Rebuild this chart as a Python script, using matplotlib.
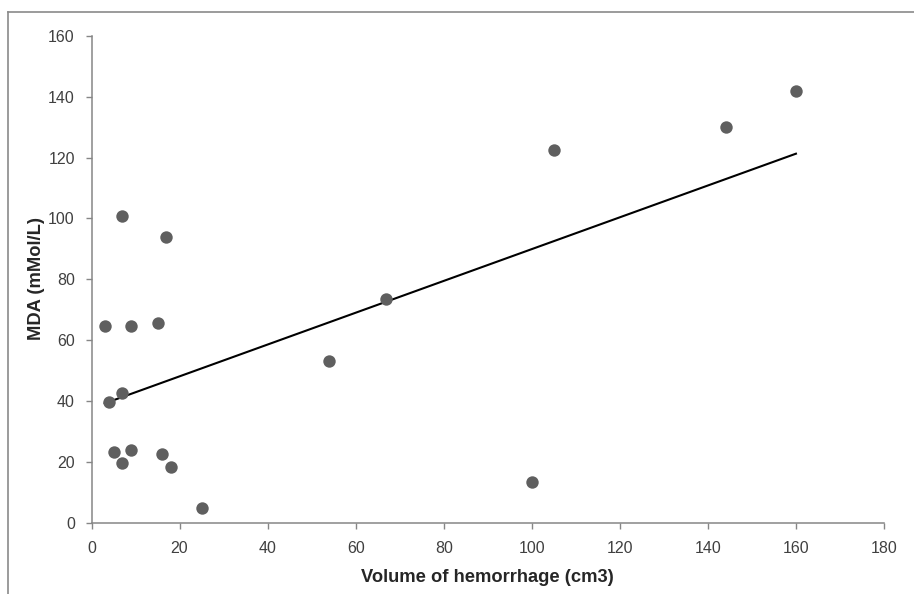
import numpy as np
import matplotlib.pyplot as plt
from matplotlib.lines import Line2D

# data
volume = [3, 4, 5, 7, 7, 7, 9, 9, 15, 16, 17, 18, 25, 54, 67, 100, 105, 144, 160]
mda = [64.7, 39.8, 23.4, 19.8, 42.7, 100.8, 64.7, 23.9, 65.7, 22.5, 93.9, 18.3, 4.8,
       53.3, 73.4, 13.4, 122.5, 130.1, 141.9]
x_ticks = [0, 20, 40, 60, 80, 100, 120, 140, 160, 180]
y_ticks = [0, 20, 40, 60, 80, 100, 120, 140, 160]

plt.rcParams['font.family'] = ['Liberation Sans', 'DejaVu Sans']
narrow = ['Liberation Sans Narrow', 'Liberation Sans', 'DejaVu Sans']

fig = plt.figure(figsize=(9.14, 5.94), dpi=100)
ax = fig.add_axes([91.5/914, 1-523/594, (884-91.5)/914, (523-35.7)/594])

ax.scatter(volume, mda, s=80, color='#5f5f5f', zorder=3, linewidths=0)

# linear trendline (least squares) over the data range
slope, icept = np.polyfit(volume, mda, 1)
xl = np.array([min(volume), max(volume)])
ax.plot(xl, slope*xl + icept, color='black', lw=1.5, zorder=2)

ax.set_xlim(0, 180)
ax.set_ylim(0, 160)
ax.set_xticks(x_ticks)
ax.set_yticks(y_ticks)
for s in ['top', 'right']:
    ax.spines[s].set_visible(False)
for s in ['left', 'bottom']:
    ax.spines[s].set_color('#868686')
    ax.spines[s].set_linewidth(1.1)
ax.tick_params(direction='out', length=4, width=1, color='#868686',
               labelsize=11.5, labelcolor='#404040')
ax.tick_params(axis='y', pad=8)
ax.tick_params(axis='x', pad=9)

ax.set_xlabel('Volume of hemorrhage (cm3)', fontsize=13.2, fontweight='bold',
              color='#262626', family=narrow, labelpad=9)
ax.set_ylabel('MDA (mMol/L)', fontsize=13.2, fontweight='bold',
              color='#262626', family=narrow)
ax.yaxis.set_label_coords((45 - 91.5)/(884 - 91.5), (523 - 279)/(523 - 35.7))

# outer chart border (top and left only visible)
fig.add_artist(Line2D([8/914, 1], [1-12/594, 1-12/594], color='#8a8a8a', lw=1.2))
fig.add_artist(Line2D([8/914, 8/914], [1-12/594, 0], color='#8a8a8a', lw=1.2))

fig.savefig('out.png', dpi=100)
